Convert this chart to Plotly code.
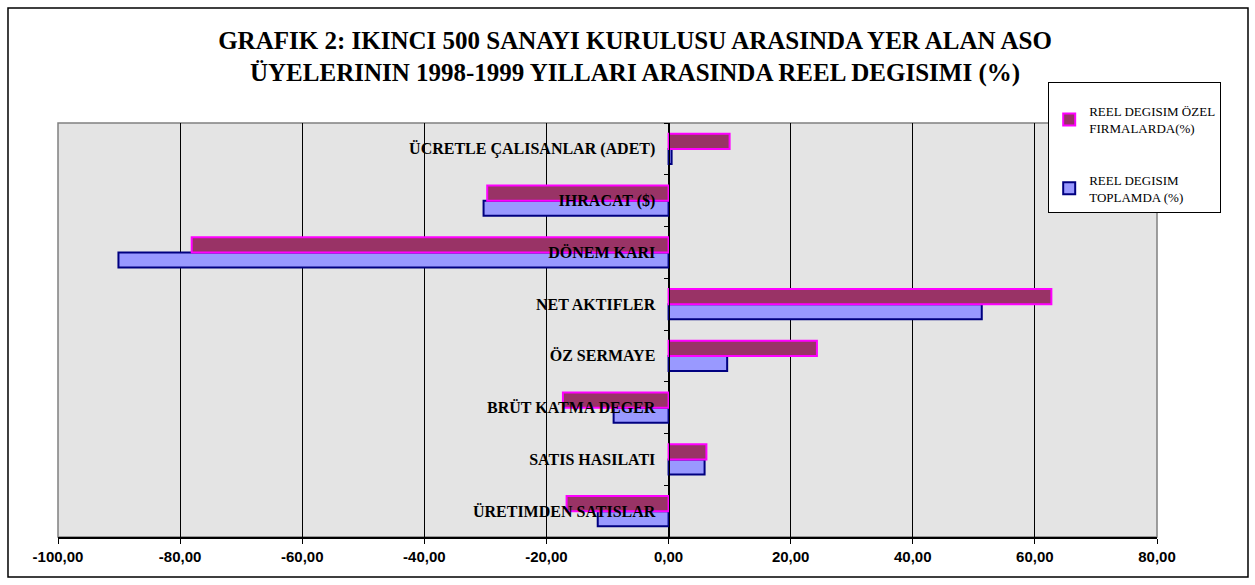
import plotly.graph_objects as go

categories = ["ÜRETIMDEN SATISLAR", "SATIS HASILATI", "BRÜT KATMA DEGER", "ÖZ SERMAYE",
              "NET AKTIFLER", "DÖNEM KARI", "IHRACAT ($)", "ÜCRETLE ÇALISANLAR (ADET)"]
ozel = [-16.7, 6.2, -17.3, 24.3, 62.7, -78.1, -29.7, 10.0]
toplam = [-11.6, 5.9, -9.0, 9.6, 51.3, -90.1, -30.3, 0.5]
tick_vals = [-100, -80, -60, -40, -20, 0, 20, 40, 60, 80]
tick_text = ["-100,00", "-80,00", "-60,00", "-40,00", "-20,00", "0,00", "20,00", "40,00", "60,00", "80,00"]
name_ozel = "REEL DEGISIM ÖZEL<br>FIRMALARDA(%)"
name_toplam = "REEL DEGISIM<br>TOPLAMDA (%)"
title_text = "GRAFIK 2: IKINCI 500 SANAYI KURULUSU ARASINDA YER ALAN ASO<br>ÜYELERININ 1998-1999 YILLARI ARASINDA REEL DEGISIMI (%)"

fig = go.Figure()
fig.add_trace(go.Bar(y=categories, x=toplam, orientation="h", name=name_toplam,
                     legendgroup="t", legendrank=2,
                     marker=dict(color="#9999FF", line=dict(color="#000080", width=2))))
fig.add_trace(go.Bar(y=categories, x=ozel, orientation="h", name=name_ozel,
                     legendgroup="o", legendrank=1,
                     marker=dict(color="#993366", line=dict(color="#FF00FF", width=2))))

fig.update_layout(
    width=1255, height=585,
    margin=dict(l=58, r=98, t=123, b=48),
    paper_bgcolor="white",
    plot_bgcolor="#e4e4e4",
    barmode="group", bargap=0.42, bargroupgap=0,
    title=dict(text=title_text, x=0.506, xanchor="center", y=0.917, yanchor="top",
               font=dict(family="Liberation Serif", size=25, color="black", weight="bold")),
    showlegend=True,
    legend=dict(x=0.901, y=1.099, xanchor="left", yanchor="top",
                bgcolor="white", bordercolor="black", borderwidth=1,
                traceorder="grouped", tracegroupgap=32, itemwidth=30,
                title=dict(text=" ", font=dict(family="Liberation Serif", size=10)),
                font=dict(family="Liberation Serif", size=13, color="black")),
    xaxis=dict(range=[-100, 80], tickvals=tick_vals, ticktext=tick_text,
               showgrid=True, gridcolor="black", gridwidth=1, zeroline=False,
               showline=True, linecolor="black", linewidth=2,
               ticks="outside", ticklen=5, tickcolor="black",
               tickfont=dict(family="Liberation Sans", size=15, color="black", weight="bold")),
    yaxis=dict(anchor="free", position=100/180, showgrid=False, zeroline=False,
               showline=True, linecolor="black", linewidth=1,
               ticks="outside", ticklen=5, tickson="boundaries", tickcolor="black",
               ticklabelstandoff=10,
               tickfont=dict(family="Liberation Serif", size=16, color="black", weight="bold")),
    shapes=[
        dict(type="rect", xref="paper", yref="paper", x0=0, x1=1, y0=0, y1=1,
             line=dict(color="#808080", width=1.5), layer="below"),
        dict(type="rect", xref="paper", yref="paper", x0=-0.0455, x1=1.0828, y0=-0.0966, y1=1.278,
             line=dict(color="black", width=1.5)),
    ],
)

fig.write_html("out.html", config={"displayModeBar": False},
               post_script="document.body.style.margin='0';")
